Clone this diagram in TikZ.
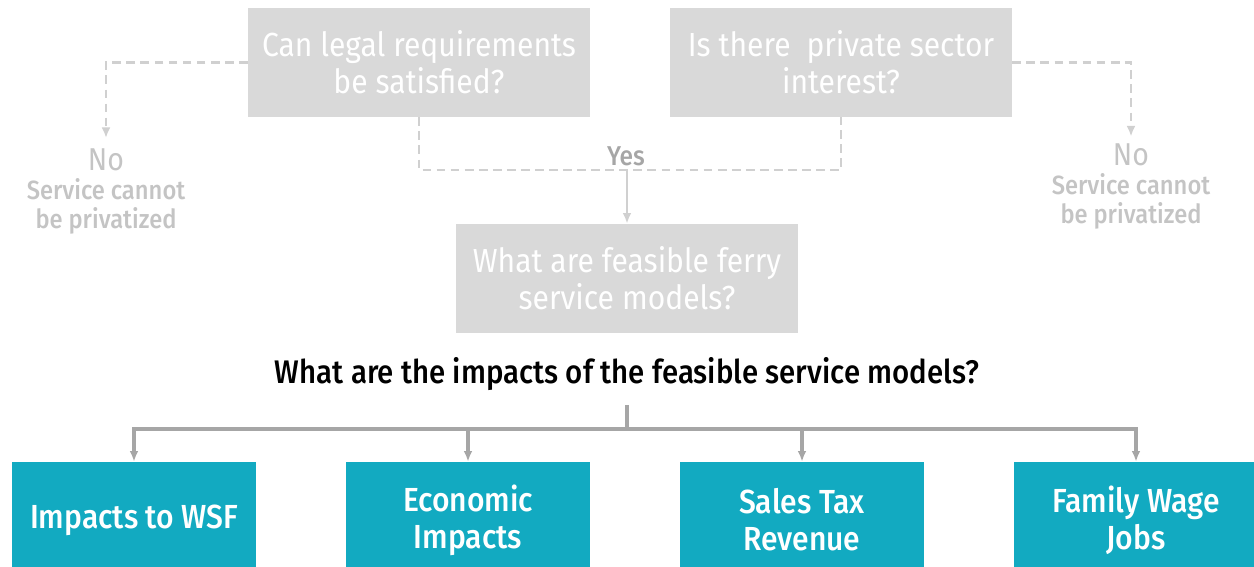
\documentclass[tikz,border=0pt]{standalone}
\usepackage{fontspec}
\setmainfont{Fira Sans}[FakeStretch=0.9, BoldFont={* Medium}]
\usetikzlibrary{arrows.meta}
\definecolor{boxgray}{HTML}{D9D9D9}
\definecolor{dashgray}{HTML}{D0D0D0}
\definecolor{nogray}{HTML}{C4C4C4}
\definecolor{yesgray}{HTML}{A6A6A6}
\definecolor{linegray}{HTML}{A6A6A6}
\definecolor{teal}{HTML}{12AAC1}
\tikzset{
  question/.style={fill=boxgray, text=white, minimum width=342*0.02cm, minimum height=109*0.02cm,
    align=center, inner sep=0pt, font=\fontsize{19}{21}\selectfont},
  impact/.style={fill=teal, text=white, minimum width=244*0.02cm, minimum height=116*0.02cm,
    align=center, inner sep=0pt, font=\fontsize{19}{21}\selectfont\bfseries},
  dashline/.style={dashgray, line width=1.3pt, dash pattern=on 5pt off 3pt},
  noline/.style={text=nogray, align=center, inner sep=0pt, font=\fontsize{15}{16.5}\selectfont\bfseries}
}
\begin{document}
\begin{tikzpicture}[x=0.02cm, y=-0.02cm, >={Latex[length=6pt,width=5pt]}]
  \useasboundingbox (0,0) rectangle (1254,567);
  % top questions
  \node[question] (legal) at (419,62.5) {Can legal requirements\\be satisfied?};
  \node[question] (private) at (841,62.5) {Is there \ private sector\\interest?};
  \node[question] (ferry) at (627,278.5) {What are feasible ferry\\service models?};
  % no branches
  \node[text=nogray, inner sep=0pt, font=\fontsize{18}{18}\selectfont] (noL) at (106,160) {No};
  \node[noline, below=0pt] (noLtext) at (106,178) {Service cannot\\be privatized};
  \node[text=nogray, inner sep=0pt, font=\fontsize{18}{18}\selectfont] (noR) at (1131,155) {No};
  \node[noline, below=0pt] (noRtext) at (1131,173) {Service cannot\\be privatized};
  \draw[dashline, ->] (legal.west) -| ([yshift=6pt]noL.north);
  \draw[dashline, ->] (private.east) -| ([yshift=4pt]noR.north);
  % yes branch
  \coordinate (join) at (627,170);
  \node[text=yesgray, font=\fontsize{15.5}{15.5}\selectfont\bfseries, inner sep=0pt] (yes) at (626,156) {Yes};
  \draw[dashline] (legal.south) |- (join) -| (private.south);
  \draw[dashgray, line width=1.3pt, ->] (join) -- (ferry.north);
  % impacts
  \node[font=\fontsize{18.6}{18.6}\selectfont\bfseries, inner sep=0pt] (impacts) at (627,374) {What are the impacts of the feasible service models?};
  \node[impact] (wsf) at (134,520) {Impacts to WSF};
  \node[impact] (econ) at (468,520) {Economic\\Impacts};
  \node[impact] (tax) at (802,520) {Sales Tax\\Revenue};
  \node[impact] (jobs) at (1136,520) {Family Wage\\Jobs};
  \coordinate (hub) at (627,429);
  \draw[linegray, line width=2pt] ([yshift=-8pt]impacts.south) -- (hub);
  \foreach \b in {wsf,econ,tax,jobs}
    \draw[linegray, line width=2pt, ->] (hub) -| (\b.north);
\end{tikzpicture}
\end{document}
